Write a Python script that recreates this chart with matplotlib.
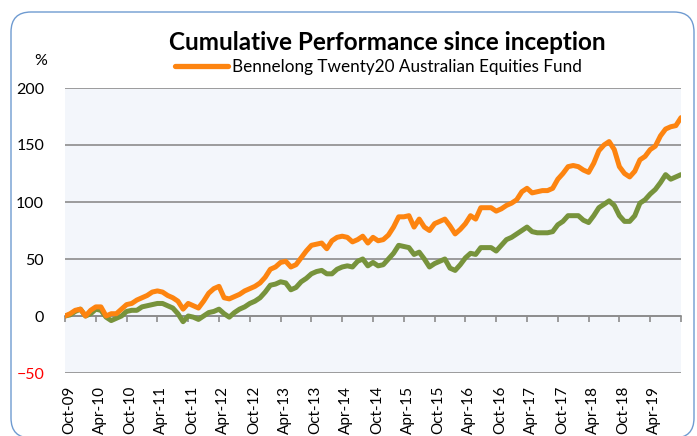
import numpy as np
import matplotlib.pyplot as plt
from matplotlib.patches import FancyBboxPatch
from matplotlib.lines import Line2D
import matplotlib.transforms as mtransforms

plt.rcParams['font.family'] = ['Lato', 'DejaVu Sans']

# Rendimiento acumulado mensual (%) desde Oct-09
fund = [0, 2, 5, 6, 0, 5, 8, 8, 0, 2,
        2, 6, 10, 11, 14, 16, 18, 21, 22, 21,
        18, 16, 13, 6, 11, 9, 7, 13, 20, 24,
        26, 16, 15, 17, 19, 22, 24, 26, 29, 34,
        41, 43, 47, 48, 43, 45, 51, 57, 62, 63,
        64, 59, 66, 69, 70, 69, 65, 67, 70, 64,
        69, 66, 67, 71, 78, 87, 87, 88, 78, 85,
        78, 75, 81, 83, 85, 79, 72, 76, 81, 88,
        85, 95, 95, 95, 92, 94, 97, 99, 102, 109,
        112, 108, 109, 110, 110, 112, 120, 125, 131, 132,
        131, 128, 126, 134, 145, 150, 153, 146, 131, 125,
        122, 127, 137, 140, 146, 149, 158, 164, 166, 167,
        174]
benchmark = [0, 1, 4, 6, 0, 2, 6, 5, -1, -4,
             -2, 0, 4, 5, 5, 8, 9, 10, 11, 11,
             9, 7, 2, -5, 0, -1, -3, 0, 3, 4,
             6, 2, -1, 3, 6, 8, 11, 13, 16, 21,
             27, 28, 30, 29, 23, 25, 30, 33, 37, 39,
             40, 37, 37, 41, 43, 44, 43, 48, 50, 44,
             47, 44, 45, 50, 55, 62, 61, 60, 54, 56,
             50, 43, 46, 48, 50, 42, 40, 45, 51, 55,
             54, 60, 60, 60, 57, 62, 67, 69, 72, 75,
             78, 74, 73, 73, 73, 74, 80, 83, 88, 88,
             88, 84, 82, 88, 95, 98, 101, 97, 88, 83,
             83, 88, 99, 102, 107, 111, 117, 124, 120, 122,
             124]
tick_labels = ['Oct-09', 'Apr-10', 'Oct-10', 'Apr-11', 'Oct-11', 'Apr-12',
               'Oct-12', 'Apr-13', 'Oct-13', 'Apr-14', 'Oct-14', 'Apr-15',
               'Oct-15', 'Apr-16', 'Oct-16', 'Apr-17', 'Oct-17', 'Apr-18',
               'Oct-18', 'Apr-19']
fund_name = 'Bennelong Twenty20 Australian Equities Fund'

orange = '#FD8410'
green = '#77933C'
x = np.arange(len(fund))

fig = plt.figure(figsize=(6.97, 4.36), dpi=100)
ax = fig.add_axes([65/697, 1 - 373/436, 616/697, 285/436])
ax.set_facecolor('#F3F6FB')

ax.plot(x, benchmark, color=green, lw=3.6, solid_joinstyle='round', solid_capstyle='round', zorder=3)
ax.plot(x, fund, color=orange, lw=3.6, solid_joinstyle='round', solid_capstyle='round', zorder=4)

ax.set_xlim(0, len(fund) - 1)
ax.set_ylim(-50, 200)
ax.set_yticks([-50, 0, 50, 100, 150, 200])
ax.yaxis.grid(True, color='#8C8C8C', lw=1.2)
ax.set_axisbelow(True)
ax.tick_params(axis='y', length=0, pad=15, labelsize=11.5)
for lbl in ax.get_yticklabels():
    lbl.set_color('red' if lbl.get_text().startswith(('-', '\u2212')) else 'black')

for s in ['left', 'right', 'top']:
    ax.spines[s].set_visible(False)
# eje x cruza en 0 con marcas hacia abajo
ax.spines['bottom'].set_position(('data', 0))
ax.spines['bottom'].set_color('#8C8C8C')
ax.spines['bottom'].set_linewidth(1.2)
ax.set_xticks(np.arange(0, len(fund), 6))
ax.tick_params(axis='x', direction='out', length=4, width=1.2, color='#8C8C8C', labelbottom=False)

# etiquetas de fecha abajo
sec = ax.secondary_xaxis('bottom')
sec.set_xticks(np.arange(0, len(tick_labels) * 6, 6))
sec.set_xticklabels(tick_labels, rotation=90, fontsize=11)
sec.tick_params(length=0, pad=9)
sec.spines['bottom'].set_visible(False)
offset = mtransforms.ScaledTranslation(0.04, 0, fig.dpi_scale_trans)
for lbl in sec.get_xticklabels():
    lbl.set_transform(lbl.get_transform() + offset)

fig.text(0.556, 1 - 42/436, 'Cumulative Performance since inception',
         ha='center', va='center', fontsize=17.5, fontweight='bold')
fig.text(41/697, 1 - 61/436, '%', ha='center', va='center', fontsize=11.5)

handle = Line2D([], [], color=orange, lw=3.8, solid_capstyle='round')
fig.legend([handle], [fund_name], loc='center left', bbox_to_anchor=(175/697, 1 - 67/436),
           frameon=False, fontsize=12.3, handlelength=3.1, handletextpad=0.25,
           borderpad=0, borderaxespad=0)

# marco redondeado
frame = FancyBboxPatch((0.11, -0.02), 6.83, 4.26, boxstyle='round,pad=0,rounding_size=0.2',
                       transform=fig.dpi_scale_trans, fill=False, edgecolor='#6F9BD1', lw=1)
fig.add_artist(frame)

plt.savefig('out.png', dpi=100)
